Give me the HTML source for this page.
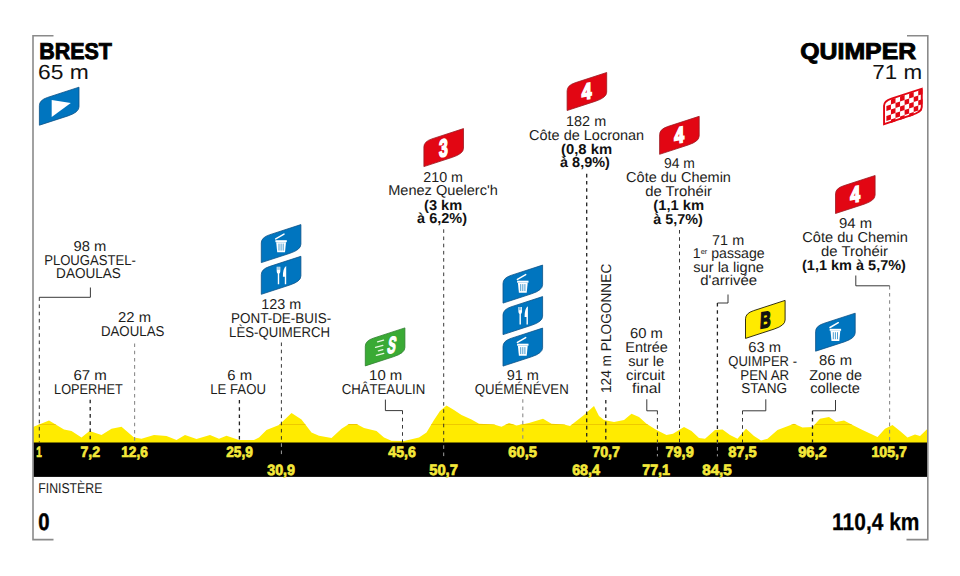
<!DOCTYPE html>
<html><head><meta charset="utf-8"><title>Stage profile</title>
<style>html,body{margin:0;padding:0;background:#fff;}body{width:960px;height:576px;overflow:hidden;font-family:"Liberation Sans",sans-serif;}svg{display:block}</style>
</head><body>
<svg width="960" height="576" viewBox="0 0 960 576" font-family="'Liberation Sans', sans-serif" text-rendering="geometricPrecision">
<rect width="960" height="576" fill="#fff"/>
<defs><clipPath id="pc"><polygon points="33,443.5 33,427 49,420.5 56.5,425 64,429.5 71.5,431 81.5,437.5 89.5,431 101.5,435 111.5,428.7 121.5,426.7 134,437.5 141.5,438.7 154,435 166.5,436 176.5,440 185,435 196.5,439 210,435 219,438.7 226.5,435.7 239,440 254,440 259,437.5 266.5,430 279,425 291.5,413 301.5,419.5 311.5,432.5 319,435.7 331.5,438 341.5,428.7 349,424 356.5,424 364,428 376.5,431 384,437.5 391.5,440.7 404,441 419,437.5 426.5,432.5 434,420 440,411 446.5,405.5 454,410 461.5,415 471.5,419.5 479,423.7 494,424.5 501.5,426.7 509,423 516.5,425.5 529,423 543,418.7 551.5,423.7 564,424.5 570,426 584,415 594,406 599,416 604,420 614,422 624,420 631.5,413.7 639,417 646.5,423.7 656.5,430 666.5,435 673,433.7 684,427 691.5,431 699,438 705,438.7 715,430 722.5,429.5 730,435 737.5,438.7 746,428.7 754,436 761,440.5 767.5,438.7 777.5,430 794,423.7 802.5,427.5 812.5,427 820,418.7 829,417 836,422 844,420.5 852.5,425 862.5,430 877.5,437 885,428.7 892.5,425 900,431 907.5,437.5 915,434.5 920,436 927.5,428.7 927.5,443.5"/></clipPath></defs>
<polygon points="33,443.5 33,427 49,420.5 56.5,425 64,429.5 71.5,431 81.5,437.5 89.5,431 101.5,435 111.5,428.7 121.5,426.7 134,437.5 141.5,438.7 154,435 166.5,436 176.5,440 185,435 196.5,439 210,435 219,438.7 226.5,435.7 239,440 254,440 259,437.5 266.5,430 279,425 291.5,413 301.5,419.5 311.5,432.5 319,435.7 331.5,438 341.5,428.7 349,424 356.5,424 364,428 376.5,431 384,437.5 391.5,440.7 404,441 419,437.5 426.5,432.5 434,420 440,411 446.5,405.5 454,410 461.5,415 471.5,419.5 479,423.7 494,424.5 501.5,426.7 509,423 516.5,425.5 529,423 543,418.7 551.5,423.7 564,424.5 570,426 584,415 594,406 599,416 604,420 614,422 624,420 631.5,413.7 639,417 646.5,423.7 656.5,430 666.5,435 673,433.7 684,427 691.5,431 699,438 705,438.7 715,430 722.5,429.5 730,435 737.5,438.7 746,428.7 754,436 761,440.5 767.5,438.7 777.5,430 794,423.7 802.5,427.5 812.5,427 820,418.7 829,417 836,422 844,420.5 852.5,425 862.5,430 877.5,437 885,428.7 892.5,425 900,431 907.5,437.5 915,434.5 920,436 927.5,428.7 927.5,443.5" fill="#ffeb00"/>
<rect x="33" y="424" width="895" height="0.9" fill="#edc400" clip-path="url(#pc)"/>
<rect x="33.3" y="442.5" width="894.0" height="34.39999999999998" fill="#000"/>
<g fill="none" stroke="#8a8a8a" stroke-width="1.6">
<path d="M53.5,35.8 L33,35.8 L33,539.6 L53.5,539.6"/>
<path d="M907,35.8 L927.8,35.8 L927.8,539.6 L906.5,539.6"/>
</g>
<line x1="39.3" y1="297.3" x2="39.3" y2="442.5" stroke="#222" stroke-width="0.9" stroke-dasharray="3.6 3.6"/>
<line x1="90.2" y1="399.7" x2="90.2" y2="442.5" stroke="#222" stroke-width="1.3" stroke-dasharray="3.6 3.6"/>
<line x1="134.6" y1="343.5" x2="134.6" y2="442.5" stroke="#8c8c8c" stroke-width="1.1" stroke-dasharray="3.6 3.6"/>
<line x1="239.4" y1="400" x2="239.4" y2="442.5" stroke="#222" stroke-width="1.3" stroke-dasharray="3.6 3.6"/>
<line x1="281.4" y1="342.5" x2="281.4" y2="442.5" stroke="#222" stroke-width="0.9" stroke-dasharray="3.6 3.6"/>
<line x1="402.5" y1="410.6" x2="402.5" y2="442.5" stroke="#222" stroke-width="0.9" stroke-dasharray="3.6 3.6"/>
<line x1="443.7" y1="229.3" x2="443.7" y2="442.5" stroke="#222" stroke-width="0.9" stroke-dasharray="3.6 3.6"/>
<line x1="522.8" y1="399.2" x2="522.8" y2="442.5" stroke="#8c8c8c" stroke-width="1.1" stroke-dasharray="3.6 3.6"/>
<line x1="586.7" y1="173.8" x2="586.7" y2="442.5" stroke="#222" stroke-width="1.3" stroke-dasharray="3.6 3.6"/>
<line x1="605.8" y1="400" x2="605.8" y2="442.5" stroke="#222" stroke-width="1.3" stroke-dasharray="3.6 3.6"/>
<line x1="657.4" y1="410.8" x2="657.4" y2="442.5" stroke="#222" stroke-width="0.9" stroke-dasharray="3.6 3.6"/>
<line x1="679.5" y1="230" x2="679.5" y2="442.5" stroke="#222" stroke-width="0.9" stroke-dasharray="3.6 3.6"/>
<line x1="717.4" y1="303" x2="717.4" y2="442.5" stroke="#222" stroke-width="1.3" stroke-dasharray="3.6 3.6"/>
<line x1="742.5" y1="410.8" x2="742.5" y2="442.5" stroke="#222" stroke-width="0.9" stroke-dasharray="3.6 3.6"/>
<line x1="812.5" y1="410.8" x2="812.5" y2="442.5" stroke="#222" stroke-width="1.3" stroke-dasharray="3.6 3.6"/>
<line x1="889.6" y1="285.8" x2="889.6" y2="442.5" stroke="#8c8c8c" stroke-width="1.1" stroke-dasharray="3.6 3.6"/>
<line x1="281.4" y1="442.5" x2="281.4" y2="456.4" stroke="#b0b0b0" stroke-width="0.9" stroke-dasharray="3.6 3.6" stroke-dashoffset="6.40"/>
<line x1="443.7" y1="442.5" x2="443.7" y2="456.4" stroke="#b0b0b0" stroke-width="0.9" stroke-dasharray="3.6 3.6" stroke-dashoffset="4.40"/>
<line x1="657.4" y1="442.5" x2="657.4" y2="456.4" stroke="#b0b0b0" stroke-width="0.9" stroke-dasharray="3.6 3.6" stroke-dashoffset="2.90"/>
<line x1="717.4" y1="442.5" x2="717.4" y2="456.4" stroke="#b0b0b0" stroke-width="0.9" stroke-dasharray="3.6 3.6" stroke-dashoffset="2.70"/>
<g fill="none" stroke="#222" stroke-width="0.9">
<path d="M90.4,287.5 V297.3 H39.3"/>
<path d="M385.4,399.6 V410.6 H402.5"/>
<path d="M646.8,399.3 V410.8 H657.5"/>
<path d="M728,294.5 V303 H717.5"/>
<path d="M765.8,399.3 V410.8 H742.5"/>
<path d="M835.5,400 V410.8 H812.5"/>
<path d="M855.8,275.5 V285.8 H889.6"/>
</g>
<text class="t" x="39.26" y="59.30" font-size="22.8" font-weight="bold" fill="#000" textLength="72.63" lengthAdjust="spacingAndGlyphs" stroke="#000" stroke-width="0.9">BREST</text>
<text class="t" x="37.94" y="79.30" font-size="20.3" font-weight="normal" fill="#111" textLength="50.75" lengthAdjust="spacingAndGlyphs">65 m</text>
<text class="t" x="800.26" y="59.30" font-size="22.8" font-weight="bold" fill="#000" textLength="115.90" lengthAdjust="spacingAndGlyphs" stroke="#000" stroke-width="0.9">QUIMPER</text>
<text class="t" x="872.36" y="79.20" font-size="20.3" font-weight="normal" fill="#111" textLength="49.75" lengthAdjust="spacingAndGlyphs">71 m</text>
<text class="t" x="73.47" y="250.70" font-size="14.3" font-weight="normal" fill="#1d1d1b" textLength="32.80" lengthAdjust="spacingAndGlyphs">98 m</text>
<text class="t" x="44.15" y="264.80" font-size="14.3" font-weight="normal" fill="#1d1d1b" textLength="91.80" lengthAdjust="spacingAndGlyphs">PLOUGASTEL-</text>
<text class="t" x="56.10" y="278.30" font-size="14.3" font-weight="normal" fill="#1d1d1b" textLength="64.80" lengthAdjust="spacingAndGlyphs">DAOULAS</text>
<text class="t" x="118.10" y="322.30" font-size="14.3" font-weight="normal" fill="#1d1d1b" textLength="33.01" lengthAdjust="spacingAndGlyphs">22 m</text>
<text class="t" x="100.94" y="336.30" font-size="14.3" font-weight="normal" fill="#1d1d1b" textLength="63.43" lengthAdjust="spacingAndGlyphs">DAOULAS</text>
<text class="t" x="73.47" y="379.80" font-size="14.3" font-weight="normal" fill="#1d1d1b" textLength="33.43" lengthAdjust="spacingAndGlyphs">67 m</text>
<text class="t" x="54.10" y="393.50" font-size="14.3" font-weight="normal" fill="#1d1d1b" textLength="68.64" lengthAdjust="spacingAndGlyphs">LOPERHET</text>
<text class="t" x="261.15" y="309.10" font-size="14.3" font-weight="normal" fill="#1d1d1b" textLength="40.01" lengthAdjust="spacingAndGlyphs">123 m</text>
<text class="t" x="231.10" y="323.30" font-size="14.3" font-weight="normal" fill="#1d1d1b" textLength="100.06" lengthAdjust="spacingAndGlyphs">PONT-DE-BUIS-</text>
<text class="t" x="229.10" y="337.10" font-size="14.3" font-weight="normal" fill="#1d1d1b" textLength="101.01" lengthAdjust="spacingAndGlyphs">LÈS-QUIMERCH</text>
<text class="t" x="227.31" y="379.80" font-size="14.3" font-weight="normal" fill="#1d1d1b" textLength="24.80" lengthAdjust="spacingAndGlyphs">6 m</text>
<text class="t" x="210.31" y="393.50" font-size="14.3" font-weight="normal" fill="#1d1d1b" textLength="55.59" lengthAdjust="spacingAndGlyphs">LE FAOU</text>
<text class="t" x="369.10" y="379.80" font-size="14.3" font-weight="normal" fill="#1d1d1b" textLength="33.17" lengthAdjust="spacingAndGlyphs">10 m</text>
<text class="t" x="341.63" y="393.50" font-size="14.3" font-weight="normal" fill="#1d1d1b" textLength="83.64" lengthAdjust="spacingAndGlyphs">CHÂTEAULIN</text>
<text class="t" x="423.26" y="181.60" font-size="14.3" font-weight="normal" fill="#1d1d1b" textLength="39.69" lengthAdjust="spacingAndGlyphs">210 m</text>
<text class="t" x="388.15" y="195.30" font-size="14.3" font-weight="normal" fill="#1d1d1b" textLength="109.75" lengthAdjust="spacingAndGlyphs">Menez Quelerc'h</text>
<text class="t" x="506.68" y="379.90" font-size="14.3" font-weight="normal" fill="#1d1d1b" textLength="32.27" lengthAdjust="spacingAndGlyphs">91 m</text>
<text class="t" x="474.63" y="393.50" font-size="14.3" font-weight="normal" fill="#1d1d1b" textLength="94.06" lengthAdjust="spacingAndGlyphs">QUÉMÉNÉVEN</text>
<text class="t" x="566.10" y="125.80" font-size="14.3" font-weight="normal" fill="#1d1d1b" textLength="40.06" lengthAdjust="spacingAndGlyphs">182 m</text>
<text class="t" x="529.10" y="139.80" font-size="14.3" font-weight="normal" fill="#1d1d1b" textLength="115.06" lengthAdjust="spacingAndGlyphs">Côte de Locronan</text>
<text class="t" x="664.05" y="168.30" font-size="14.3" font-weight="normal" fill="#1d1d1b" textLength="30.90" lengthAdjust="spacingAndGlyphs">94 m</text>
<text class="t" x="626.10" y="182.30" font-size="14.3" font-weight="normal" fill="#1d1d1b" textLength="104.85" lengthAdjust="spacingAndGlyphs">Côte du Chemin</text>
<text class="t" x="645.26" y="196.10" font-size="14.3" font-weight="normal" fill="#1d1d1b" textLength="66.74" lengthAdjust="spacingAndGlyphs">de Trohéir</text>
<text class="t" x="630.05" y="337.80" font-size="14.3" font-weight="normal" fill="#1d1d1b" textLength="32.85" lengthAdjust="spacingAndGlyphs">60 m</text>
<text class="t" x="625.31" y="351.60" font-size="14.3" font-weight="normal" fill="#1d1d1b" textLength="42.59" lengthAdjust="spacingAndGlyphs">Entrée</text>
<text class="t" x="628.31" y="365.80" font-size="14.3" font-weight="normal" fill="#1d1d1b" textLength="35.80" lengthAdjust="spacingAndGlyphs">sur le</text>
<text class="t" x="626.10" y="379.60" font-size="14.3" font-weight="normal" fill="#1d1d1b" textLength="38.90" lengthAdjust="spacingAndGlyphs">circuit</text>
<text class="t" x="632.05" y="393.30" font-size="14.3" font-weight="normal" fill="#1d1d1b" textLength="28.85" lengthAdjust="spacingAndGlyphs">final</text>
<text class="t" x="712.10" y="244.60" font-size="14.3" font-weight="normal" fill="#1d1d1b" textLength="32.06" lengthAdjust="spacingAndGlyphs">71 m</text>
<text class="t" x="693.31" y="271.60" font-size="14.3" font-weight="normal" fill="#1d1d1b" textLength="70.59" lengthAdjust="spacingAndGlyphs">sur la ligne</text>
<text class="t" x="700.31" y="285.30" font-size="14.3" font-weight="normal" fill="#1d1d1b" textLength="56.80" lengthAdjust="spacingAndGlyphs">d'arrivée</text>
<text class="t" x="748.31" y="351.60" font-size="14.3" font-weight="normal" fill="#1d1d1b" textLength="32.85" lengthAdjust="spacingAndGlyphs">63 m</text>
<text class="t" x="728.26" y="365.80" font-size="14.3" font-weight="normal" fill="#1d1d1b" textLength="68.74" lengthAdjust="spacingAndGlyphs">QUIMPER -</text>
<text class="t" x="740.36" y="379.60" font-size="14.3" font-weight="normal" fill="#1d1d1b" textLength="48.80" lengthAdjust="spacingAndGlyphs">PEN AR</text>
<text class="t" x="741.26" y="393.30" font-size="14.3" font-weight="normal" fill="#1d1d1b" textLength="45.80" lengthAdjust="spacingAndGlyphs">STANG</text>
<text class="t" x="839.10" y="227.80" font-size="14.3" font-weight="normal" fill="#1d1d1b" textLength="33.01" lengthAdjust="spacingAndGlyphs">94 m</text>
<text class="t" x="802.31" y="242.10" font-size="14.3" font-weight="normal" fill="#1d1d1b" textLength="105.59" lengthAdjust="spacingAndGlyphs">Côte du Chemin</text>
<text class="t" x="821.10" y="255.80" font-size="14.3" font-weight="normal" fill="#1d1d1b" textLength="66.90" lengthAdjust="spacingAndGlyphs">de Trohéir</text>
<text class="t" x="819.05" y="365.30" font-size="14.3" font-weight="normal" fill="#1d1d1b" textLength="33.01" lengthAdjust="spacingAndGlyphs">86 m</text>
<text class="t" x="809.21" y="379.60" font-size="14.3" font-weight="normal" fill="#1d1d1b" textLength="52.90" lengthAdjust="spacingAndGlyphs">Zone de</text>
<text class="t" x="810.31" y="393.30" font-size="14.3" font-weight="normal" fill="#1d1d1b" textLength="49.64" lengthAdjust="spacingAndGlyphs">collecte</text>
<text class="t" x="38.26" y="493.20" font-size="14.3" font-weight="normal" fill="#1d1d1b" textLength="64.11" lengthAdjust="spacingAndGlyphs">FINISTÈRE</text>
<text x="692.8" y="258.3" font-size="14.3" fill="#1d1d1b" textLength="71.8" lengthAdjust="spacingAndGlyphs">1<tspan font-size="7.5" dy="-4.5">er</tspan><tspan dy="4.5"> passage</tspan></text>
<text class="t" x="424.05" y="209.60" font-size="14.3" font-weight="bold" fill="#111" textLength="38.11" lengthAdjust="spacingAndGlyphs">(3 km</text>
<text class="t" x="417.05" y="223.30" font-size="14.3" font-weight="bold" fill="#111" textLength="50.06" lengthAdjust="spacingAndGlyphs">à 6,2%)</text>
<text class="t" x="561.10" y="153.60" font-size="14.3" font-weight="bold" fill="#111" textLength="51.01" lengthAdjust="spacingAndGlyphs">(0,8 km</text>
<text class="t" x="560.05" y="167.30" font-size="14.3" font-weight="bold" fill="#111" textLength="49.90" lengthAdjust="spacingAndGlyphs">à 8,9%)</text>
<text class="t" x="653.26" y="210.30" font-size="14.3" font-weight="bold" fill="#111" textLength="50.90" lengthAdjust="spacingAndGlyphs">(1,1 km</text>
<text class="t" x="653.26" y="224.10" font-size="14.3" font-weight="bold" fill="#111" textLength="49.64" lengthAdjust="spacingAndGlyphs">à 5,7%)</text>
<text class="t" x="802.05" y="269.60" font-size="14.3" font-weight="bold" fill="#111" textLength="103.90" lengthAdjust="spacingAndGlyphs">(1,1 km à 5,7%)</text>
<text transform="translate(611.2,393.1) rotate(-90)" font-size="14.3" fill="#1d1d1b" textLength="129.4" lengthAdjust="spacingAndGlyphs">124 m PLOGONNEC</text>
<text class="t" x="36.26" y="457.30" font-size="15" font-weight="bold" fill="#f4e83a" textLength="5.53" lengthAdjust="spacingAndGlyphs" stroke="#f4e83a" stroke-width="0.7">1</text>
<text class="t" x="80.42" y="457.30" font-size="15" font-weight="bold" fill="#f4e83a" textLength="19.58" lengthAdjust="spacingAndGlyphs" stroke="#f4e83a" stroke-width="0.7">7,2</text>
<text class="t" x="121.26" y="457.30" font-size="15" font-weight="bold" fill="#f4e83a" textLength="26.58" lengthAdjust="spacingAndGlyphs" stroke="#f4e83a" stroke-width="0.7">12,6</text>
<text class="t" x="226.21" y="457.30" font-size="15" font-weight="bold" fill="#f4e83a" textLength="26.63" lengthAdjust="spacingAndGlyphs" stroke="#f4e83a" stroke-width="0.7">25,9</text>
<text class="t" x="388.37" y="457.30" font-size="15" font-weight="bold" fill="#f4e83a" textLength="27.47" lengthAdjust="spacingAndGlyphs" stroke="#f4e83a" stroke-width="0.7">45,6</text>
<text class="t" x="508.26" y="457.30" font-size="15" font-weight="bold" fill="#f4e83a" textLength="28.74" lengthAdjust="spacingAndGlyphs" stroke="#f4e83a" stroke-width="0.7">60,5</text>
<text class="t" x="592.21" y="457.30" font-size="15" font-weight="bold" fill="#f4e83a" textLength="27.79" lengthAdjust="spacingAndGlyphs" stroke="#f4e83a" stroke-width="0.7">70,7</text>
<text class="t" x="665.42" y="457.30" font-size="15" font-weight="bold" fill="#f4e83a" textLength="28.32" lengthAdjust="spacingAndGlyphs" stroke="#f4e83a" stroke-width="0.7">79,9</text>
<text class="t" x="728.21" y="457.30" font-size="15" font-weight="bold" fill="#f4e83a" textLength="28.58" lengthAdjust="spacingAndGlyphs" stroke="#f4e83a" stroke-width="0.7">87,5</text>
<text class="t" x="798.21" y="457.30" font-size="15" font-weight="bold" fill="#f4e83a" textLength="28.58" lengthAdjust="spacingAndGlyphs" stroke="#f4e83a" stroke-width="0.7">96,2</text>
<text class="t" x="871.42" y="457.30" font-size="15" font-weight="bold" fill="#f4e83a" textLength="35.42" lengthAdjust="spacingAndGlyphs" stroke="#f4e83a" stroke-width="0.7">105,7</text>
<text class="t" x="267.21" y="474.50" font-size="15" font-weight="bold" fill="#f4e83a" textLength="27.79" lengthAdjust="spacingAndGlyphs" stroke="#f4e83a" stroke-width="0.7">30,9</text>
<text class="t" x="429.21" y="474.50" font-size="15" font-weight="bold" fill="#f4e83a" textLength="28.74" lengthAdjust="spacingAndGlyphs" stroke="#f4e83a" stroke-width="0.7">50,7</text>
<text class="t" x="572.21" y="474.50" font-size="15" font-weight="bold" fill="#f4e83a" textLength="27.68" lengthAdjust="spacingAndGlyphs" stroke="#f4e83a" stroke-width="0.7">68,4</text>
<text class="t" x="642.21" y="474.50" font-size="15" font-weight="bold" fill="#f4e83a" textLength="27.79" lengthAdjust="spacingAndGlyphs" stroke="#f4e83a" stroke-width="0.7">77,1</text>
<text class="t" x="702.26" y="474.50" font-size="15" font-weight="bold" fill="#f4e83a" textLength="29.53" lengthAdjust="spacingAndGlyphs" stroke="#f4e83a" stroke-width="0.7">84,5</text>
<text class="t" x="38.31" y="530.00" font-size="24" font-weight="bold" fill="#000" textLength="11.27" lengthAdjust="spacingAndGlyphs" stroke="#000" stroke-width="0.5">0</text>
<text class="t" x="832.10" y="530.00" font-size="24" font-weight="bold" fill="#000" textLength="87.38" lengthAdjust="spacingAndGlyphs" stroke="#000" stroke-width="0.25">110,4 km</text>
<path d="M39.40,125.20 L39.40,105.60 Q39.40,100.10 47.40,97.49 L79.00,87.20 L79.00,106.80 Q79.00,112.30 68.00,115.88 Z" fill="#0075bf" stroke="#0b5288" stroke-width="0.8" stroke-linejoin="round"/>
<path d="M51.70,100.10 L51.70,117.00 L70.80,103.10 Z" fill="#fff"/>
<defs><clipPath id="fc"><path d="M883.10,125.40 L883.10,105.80 Q883.10,100.30 891.10,97.69 L922.70,87.40 L922.70,107.00 Q922.70,112.50 911.70,116.08 Z"/></clipPath></defs>
<path d="M883.10,125.40 L883.10,105.80 Q883.10,100.30 891.10,97.69 L922.70,87.40 L922.70,107.00 Q922.70,112.50 911.70,116.08 Z" fill="#fff"/>
<g clip-path="url(#fc)"><g transform="translate(883.10,100.30) skewY(-18.04)" fill="#e20613">
<rect x="7.85" y="1.70" width="4.55" height="5.00"/>
<rect x="16.95" y="1.70" width="4.55" height="5.00"/>
<rect x="26.05" y="1.70" width="4.55" height="5.00"/>
<rect x="35.15" y="1.70" width="4.55" height="5.00"/>
<rect x="3.30" y="6.70" width="4.55" height="5.00"/>
<rect x="12.40" y="6.70" width="4.55" height="5.00"/>
<rect x="21.50" y="6.70" width="4.55" height="5.00"/>
<rect x="30.60" y="6.70" width="4.55" height="5.00"/>
<rect x="39.70" y="6.70" width="4.55" height="5.00"/>
<rect x="7.85" y="11.70" width="4.55" height="5.00"/>
<rect x="16.95" y="11.70" width="4.55" height="5.00"/>
<rect x="26.05" y="11.70" width="4.55" height="5.00"/>
<rect x="35.15" y="11.70" width="4.55" height="5.00"/>
<rect x="3.30" y="16.70" width="4.55" height="5.00"/>
<rect x="12.40" y="16.70" width="4.55" height="5.00"/>
<rect x="21.50" y="16.70" width="4.55" height="5.00"/>
<rect x="30.60" y="16.70" width="4.55" height="5.00"/>
<rect x="39.70" y="16.70" width="4.55" height="5.00"/>
<rect x="7.85" y="21.70" width="4.55" height="5.00"/>
<rect x="16.95" y="21.70" width="4.55" height="5.00"/>
<rect x="26.05" y="21.70" width="4.55" height="5.00"/>
<rect x="35.15" y="21.70" width="4.55" height="5.00"/>
</g></g>
<path d="M883.10,125.40 L883.10,105.80 Q883.10,100.30 891.10,97.69 L922.70,87.40 L922.70,107.00 Q922.70,112.50 911.70,116.08 Z" fill="none" stroke="#e20613" stroke-width="3.8" stroke-linejoin="round" clip-path="url(#fc)"/>
<path d="M261.30,262.60 L261.30,243.00 Q261.30,237.50 269.30,234.89 L300.90,224.60 L300.90,244.20 Q300.90,249.70 289.90,253.28 Z" fill="#0075bf" stroke="#0b5288" stroke-width="0.8" stroke-linejoin="round"/>
<g fill="#fff" stroke="none">
<rect x="275.40" y="240.20" width="11.4" height="2" />
<path d="M276.20,242.20 L286.00,242.20 L285.00,252.30 L277.20,252.30 Z"/>
</g>
<g stroke="#0075bf" stroke-width="0.7">
<line x1="279.00" y1="243.60" x2="279.00" y2="250.60"/>
<line x1="281.10" y1="243.60" x2="281.10" y2="250.60"/>
<line x1="283.20" y1="243.60" x2="283.20" y2="250.60"/>
</g>
<line x1="275.70" y1="238.90" x2="284.00" y2="234.10" stroke="#fff" stroke-width="1.5" stroke-linecap="round"/>
<path d="M261.30,294.30 L261.30,274.70 Q261.30,269.20 269.30,266.59 L300.90,256.30 L300.90,275.90 Q300.90,281.40 289.90,284.98 Z" fill="#0075bf" stroke="#0b5288" stroke-width="0.8" stroke-linejoin="round"/>
<g fill="#fff">
<path d="M276.70,266.70 L280.30,266.70 L280.30,271.30 Q280.30,273.30 279.20,273.70 L279.20,284.20 L277.80,284.20 L277.80,273.70 Q276.70,273.30 276.70,271.30 Z"/>
<path d="M286.20,265.90 L286.20,284.20 L284.80,284.20 L284.80,276.80 L282.90,276.80 Q282.70,268.30 286.20,265.90 Z"/>
</g>
<g stroke="#0075bf" stroke-width="0.5">
<line x1="277.90" y1="266.50" x2="277.90" y2="269.90"/>
<line x1="279.10" y1="266.50" x2="279.10" y2="269.90"/>
</g>
<path d="M365.30,365.90 L365.30,346.30 Q365.30,340.80 373.30,338.19 L404.90,327.90 L404.90,347.50 Q404.90,353.00 393.90,356.58 Z" fill="#3aaa35" stroke="#2f7f2f" stroke-width="0.8" stroke-linejoin="round"/>
<text transform="translate(386.50,353.10) skewX(-10)" font-size="23.5" font-weight="bold" fill="#fff" stroke="#fff" stroke-width="1.4" textLength="8.2" lengthAdjust="spacingAndGlyphs">S</text>
<g stroke="#e9f7e4" stroke-width="1.2" stroke-linecap="round">
<line x1="377.50" y1="341.80" x2="383.60" y2="340.10"/>
<line x1="375.50" y1="347.40" x2="382.90" y2="345.40"/>
<line x1="378.30" y1="350.90" x2="382.90" y2="349.60"/>
<line x1="376.30" y1="355.40" x2="383.80" y2="353.30"/>
</g>
<path d="M423.90,166.60 L423.90,147.00 Q423.90,141.50 431.90,138.89 L463.50,128.60 L463.50,148.20 Q463.50,153.70 452.50,157.28 Z" fill="#e20613" stroke="#9c1a22" stroke-width="0.8" stroke-linejoin="round"/>
<text transform="translate(443.50,147.50) skewY(-11)" x="-4.40" y="8.81" font-size="24.6" font-weight="bold" fill="#fff" stroke="#fff" stroke-width="1.7" textLength="8.8" lengthAdjust="spacingAndGlyphs">3</text>
<path d="M503.00,303.10 L503.00,283.50 Q503.00,278.00 511.00,275.39 L542.60,265.10 L542.60,284.70 Q542.60,290.20 531.60,293.78 Z" fill="#0075bf" stroke="#0b5288" stroke-width="0.8" stroke-linejoin="round"/>
<g fill="#fff" stroke="none">
<rect x="517.10" y="280.70" width="11.4" height="2" />
<path d="M517.90,282.70 L527.70,282.70 L526.70,292.80 L518.90,292.80 Z"/>
</g>
<g stroke="#0075bf" stroke-width="0.7">
<line x1="520.70" y1="284.10" x2="520.70" y2="291.10"/>
<line x1="522.80" y1="284.10" x2="522.80" y2="291.10"/>
<line x1="524.90" y1="284.10" x2="524.90" y2="291.10"/>
</g>
<line x1="517.40" y1="279.40" x2="525.70" y2="274.60" stroke="#fff" stroke-width="1.5" stroke-linecap="round"/>
<path d="M503.00,334.60 L503.00,315.00 Q503.00,309.50 511.00,306.89 L542.60,296.60 L542.60,316.20 Q542.60,321.70 531.60,325.28 Z" fill="#0075bf" stroke="#0b5288" stroke-width="0.8" stroke-linejoin="round"/>
<g fill="#fff">
<path d="M518.40,307.00 L522.00,307.00 L522.00,311.60 Q522.00,313.60 520.90,314.00 L520.90,324.50 L519.50,324.50 L519.50,314.00 Q518.40,313.60 518.40,311.60 Z"/>
<path d="M527.90,306.20 L527.90,324.50 L526.50,324.50 L526.50,317.10 L524.60,317.10 Q524.40,308.60 527.90,306.20 Z"/>
</g>
<g stroke="#0075bf" stroke-width="0.5">
<line x1="519.60" y1="306.80" x2="519.60" y2="310.20"/>
<line x1="520.80" y1="306.80" x2="520.80" y2="310.20"/>
</g>
<path d="M503.00,366.10 L503.00,346.50 Q503.00,341.00 511.00,338.39 L542.60,328.10 L542.60,347.70 Q542.60,353.20 531.60,356.78 Z" fill="#0075bf" stroke="#0b5288" stroke-width="0.8" stroke-linejoin="round"/>
<g fill="#fff" stroke="none">
<rect x="517.10" y="343.70" width="11.4" height="2" />
<path d="M517.90,345.70 L527.70,345.70 L526.70,355.80 L518.90,355.80 Z"/>
</g>
<g stroke="#0075bf" stroke-width="0.7">
<line x1="520.70" y1="347.10" x2="520.70" y2="354.10"/>
<line x1="522.80" y1="347.10" x2="522.80" y2="354.10"/>
<line x1="524.90" y1="347.10" x2="524.90" y2="354.10"/>
</g>
<line x1="517.40" y1="342.40" x2="525.70" y2="337.60" stroke="#fff" stroke-width="1.5" stroke-linecap="round"/>
<path d="M567.10,110.50 L567.10,90.90 Q567.10,85.40 575.10,82.79 L606.70,72.50 L606.70,92.10 Q606.70,97.60 595.70,101.18 Z" fill="#e20613" stroke="#9c1a22" stroke-width="0.8" stroke-linejoin="round"/>
<text transform="translate(586.70,90.90) skewY(-11)" x="-4.90" y="8.09" font-size="22.6" font-weight="bold" fill="#fff" stroke="#fff" stroke-width="1.7" textLength="9.8" lengthAdjust="spacingAndGlyphs">4</text>
<path d="M659.60,154.30 L659.60,134.70 Q659.60,129.20 667.60,126.59 L699.20,116.30 L699.20,135.90 Q699.20,141.40 688.20,144.98 Z" fill="#e20613" stroke="#9c1a22" stroke-width="0.8" stroke-linejoin="round"/>
<text transform="translate(679.20,134.70) skewY(-11)" x="-4.90" y="8.09" font-size="22.6" font-weight="bold" fill="#fff" stroke="#fff" stroke-width="1.7" textLength="9.8" lengthAdjust="spacingAndGlyphs">4</text>
<path d="M745.50,338.40 L745.50,318.80 Q745.50,313.30 753.50,310.69 L785.10,300.40 L785.10,320.00 Q785.10,325.50 774.10,329.08 Z" fill="#ffea00" stroke="#1f1c00" stroke-width="0.9" stroke-linejoin="round"/>
<text transform="translate(765.40,319.60) skewY(-9) skewX(-3)" x="-5.30" y="8.0" font-size="22.5" font-weight="bold" fill="#111" stroke="#111" stroke-width="1.6" textLength="10.6" lengthAdjust="spacingAndGlyphs">B</text>
<path d="M815.60,351.20 L815.60,331.60 Q815.60,326.10 823.60,323.49 L855.20,313.20 L855.20,332.80 Q855.20,338.30 844.20,341.88 Z" fill="#0075bf" stroke="#0b5288" stroke-width="0.8" stroke-linejoin="round"/>
<g fill="#fff" stroke="none">
<rect x="829.70" y="328.80" width="11.4" height="2" />
<path d="M830.50,330.80 L840.30,330.80 L839.30,340.90 L831.50,340.90 Z"/>
</g>
<g stroke="#0075bf" stroke-width="0.7">
<line x1="833.30" y1="332.20" x2="833.30" y2="339.20"/>
<line x1="835.40" y1="332.20" x2="835.40" y2="339.20"/>
<line x1="837.50" y1="332.20" x2="837.50" y2="339.20"/>
</g>
<line x1="830.00" y1="327.50" x2="838.30" y2="322.70" stroke="#fff" stroke-width="1.5" stroke-linecap="round"/>
<path d="M835.50,213.50 L835.50,193.90 Q835.50,188.40 843.50,185.79 L875.10,175.50 L875.10,195.10 Q875.10,200.60 864.10,204.18 Z" fill="#e20613" stroke="#9c1a22" stroke-width="0.8" stroke-linejoin="round"/>
<text transform="translate(855.10,193.90) skewY(-11)" x="-4.90" y="8.09" font-size="22.6" font-weight="bold" fill="#fff" stroke="#fff" stroke-width="1.7" textLength="9.8" lengthAdjust="spacingAndGlyphs">4</text>
</svg>
</body></html>
